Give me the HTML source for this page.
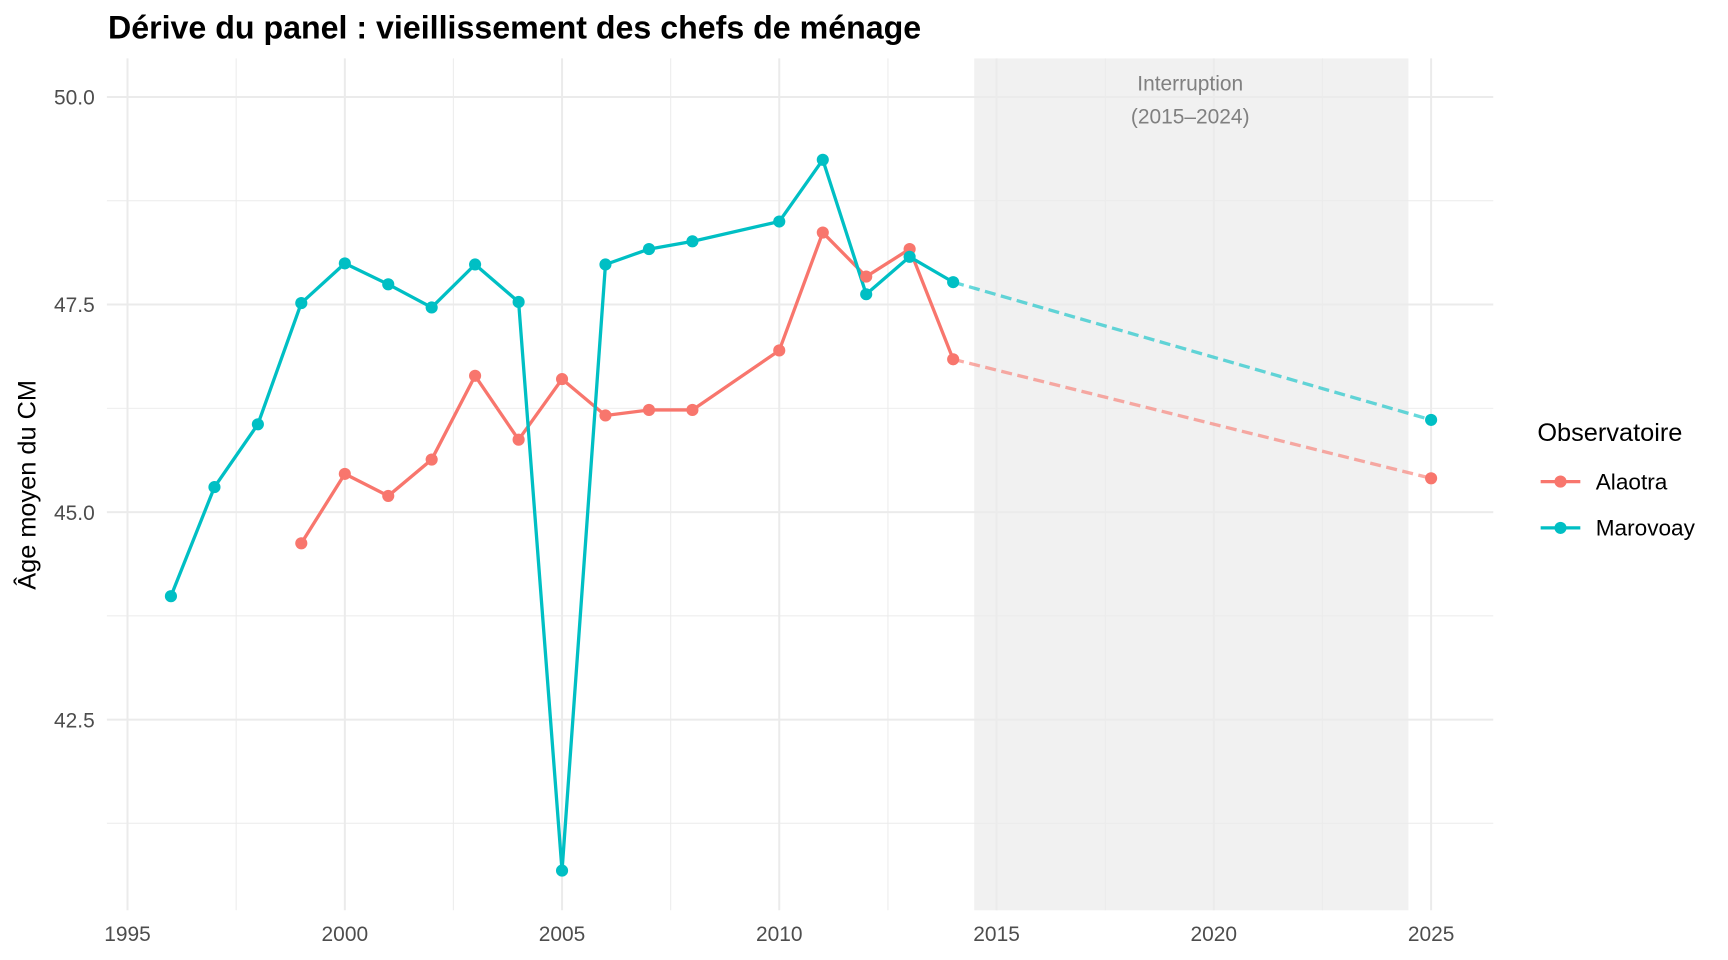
<!DOCTYPE html>
<html><head><meta charset="utf-8"><style>html,body{margin:0;padding:0;background:#fff}svg{display:block}</style></head>
<body>
<svg width="1728" height="960" viewBox="0 0 1568 871.1" xmlns="http://www.w3.org/2000/svg" font-family="Liberation Sans, Arial, sans-serif">
<rect width="1568" height="872" fill="#fff"/>
<rect x="884" y="53" width="394" height="773" fill="#f1f1f1"/>
<g stroke="#ebebeb" stroke-width="0.9">
<line x1="97" x2="1355" y1="182.2" y2="182.2"/><line x1="97" x2="1355" y1="370.5" y2="370.5"/><line x1="97" x2="1355" y1="558.8" y2="558.8"/><line x1="97" x2="1355" y1="747" y2="747"/>
<line x1="214.3" x2="214.3" y1="53" y2="826"/><line x1="411.4" x2="411.4" y1="53" y2="826"/><line x1="608.6" x2="608.6" y1="53" y2="826"/><line x1="805.7" x2="805.7" y1="53" y2="826"/><line x1="1002.9" x2="1002.9" y1="53" y2="826"/><line x1="1200" x2="1200" y1="53" y2="826"/>
</g>
<g stroke="#ebebeb" stroke-width="1.8">
<line x1="97" x2="1355" y1="88" y2="88"/><line x1="97" x2="1355" y1="276.3" y2="276.3"/><line x1="97" x2="1355" y1="464.7" y2="464.7"/><line x1="97" x2="1355" y1="653" y2="653"/>
<line x1="115.7" x2="115.7" y1="53" y2="826"/><line x1="312.9" x2="312.9" y1="53" y2="826"/><line x1="510" x2="510" y1="53" y2="826"/><line x1="707.1" x2="707.1" y1="53" y2="826"/><line x1="904.3" x2="904.3" y1="53" y2="826"/><line x1="1101.4" x2="1101.4" y1="53" y2="826"/><line x1="1298.6" x2="1298.6" y1="53" y2="826"/>
</g>
<text x="1080" y="82" font-size="19" fill="#808080" text-anchor="middle">Interruption</text>
<text x="1080" y="112" font-size="19" fill="#808080" text-anchor="middle">(2015–2024)</text>
<g fill="none" stroke-width="3" stroke-linejoin="round">
<polyline stroke="#F8766D" points="273.4,493 312.9,430 352.3,450 391.7,417 431.1,341 470.6,399 510,344 549.4,377 588.9,372 628.3,372 707.1,318 746.6,211 786,251 825.4,226 864.9,326"/>
<polyline stroke="#00BFC4" points="155.1,541 194.6,442 234,385 273.4,275 312.9,239 352.3,258 391.7,279 431.1,240 470.6,274 510,790 549.4,240 588.9,226 628.3,219 707.1,201 746.6,145 786,267 825.4,233 864.9,256"/>
<line x1="864.9" y1="326" x2="1298.6" y2="434" stroke="#F8766D" stroke-opacity="0.6" stroke-dasharray="10,5"/>
<line x1="864.9" y1="256" x2="1298.6" y2="381" stroke="#00BFC4" stroke-opacity="0.6" stroke-dasharray="10,5"/>
</g>
<g fill="#F8766D">
<circle cx="273.4" cy="493" r="5.5"/><circle cx="312.9" cy="430" r="5.5"/><circle cx="352.3" cy="450" r="5.5"/><circle cx="391.7" cy="417" r="5.5"/><circle cx="431.1" cy="341" r="5.5"/><circle cx="470.6" cy="399" r="5.5"/><circle cx="510" cy="344" r="5.5"/><circle cx="549.4" cy="377" r="5.5"/><circle cx="588.9" cy="372" r="5.5"/><circle cx="628.3" cy="372" r="5.5"/><circle cx="707.1" cy="318" r="5.5"/><circle cx="746.6" cy="211" r="5.5"/><circle cx="786" cy="251" r="5.5"/><circle cx="825.4" cy="226" r="5.5"/><circle cx="864.9" cy="326" r="5.5"/><circle cx="1298.6" cy="434" r="5.5"/>
</g>
<g fill="#00BFC4">
<circle cx="155.1" cy="541" r="5.5"/><circle cx="194.6" cy="442" r="5.5"/><circle cx="234" cy="385" r="5.5"/><circle cx="273.4" cy="275" r="5.5"/><circle cx="312.9" cy="239" r="5.5"/><circle cx="352.3" cy="258" r="5.5"/><circle cx="391.7" cy="279" r="5.5"/><circle cx="431.1" cy="240" r="5.5"/><circle cx="470.6" cy="274" r="5.5"/><circle cx="510" cy="790" r="5.5"/><circle cx="549.4" cy="240" r="5.5"/><circle cx="588.9" cy="226" r="5.5"/><circle cx="628.3" cy="219" r="5.5"/><circle cx="707.1" cy="201" r="5.5"/><circle cx="746.6" cy="145" r="5.5"/><circle cx="786" cy="267" r="5.5"/><circle cx="825.4" cy="233" r="5.5"/><circle cx="864.9" cy="256" r="5.5"/><circle cx="1298.6" cy="381" r="5.5"/>
</g>
<g font-size="19" fill="#4d4d4d" text-anchor="end">
<text x="86" y="95">50.0</text><text x="86" y="283.3">47.5</text><text x="86" y="471.7">45.0</text><text x="86" y="660">42.5</text>
</g>
<g font-size="19" fill="#4d4d4d" text-anchor="middle">
<text x="115.7" y="854">1995</text><text x="312.9" y="854">2000</text><text x="510" y="854">2005</text><text x="707.1" y="854">2010</text><text x="904.3" y="854">2015</text><text x="1101.4" y="854">2020</text><text x="1298.6" y="854">2025</text>
</g>
<text transform="translate(32,440) rotate(-90)" font-size="23" text-anchor="middle" fill="#000">Âge moyen du CM</text>
<text x="98" y="35" font-size="29.2" font-weight="bold" fill="#000">Dérive du panel : vieillissement des chefs de ménage</text>
<text x="1395" y="400" font-size="23" fill="#000">Observatoire</text>
<line x1="1398" x2="1434" y1="437" y2="437" stroke="#F8766D" stroke-width="3"/><circle cx="1416" cy="437" r="5.5" fill="#F8766D"/>
<text x="1448" y="444" font-size="20.5" fill="#000">Alaotra</text>
<line x1="1398" x2="1434" y1="479" y2="479" stroke="#00BFC4" stroke-width="3"/><circle cx="1416" cy="479" r="5.5" fill="#00BFC4"/>
<text x="1448" y="486" font-size="20.5" fill="#000">Marovoay</text>
</svg>
</body></html>
